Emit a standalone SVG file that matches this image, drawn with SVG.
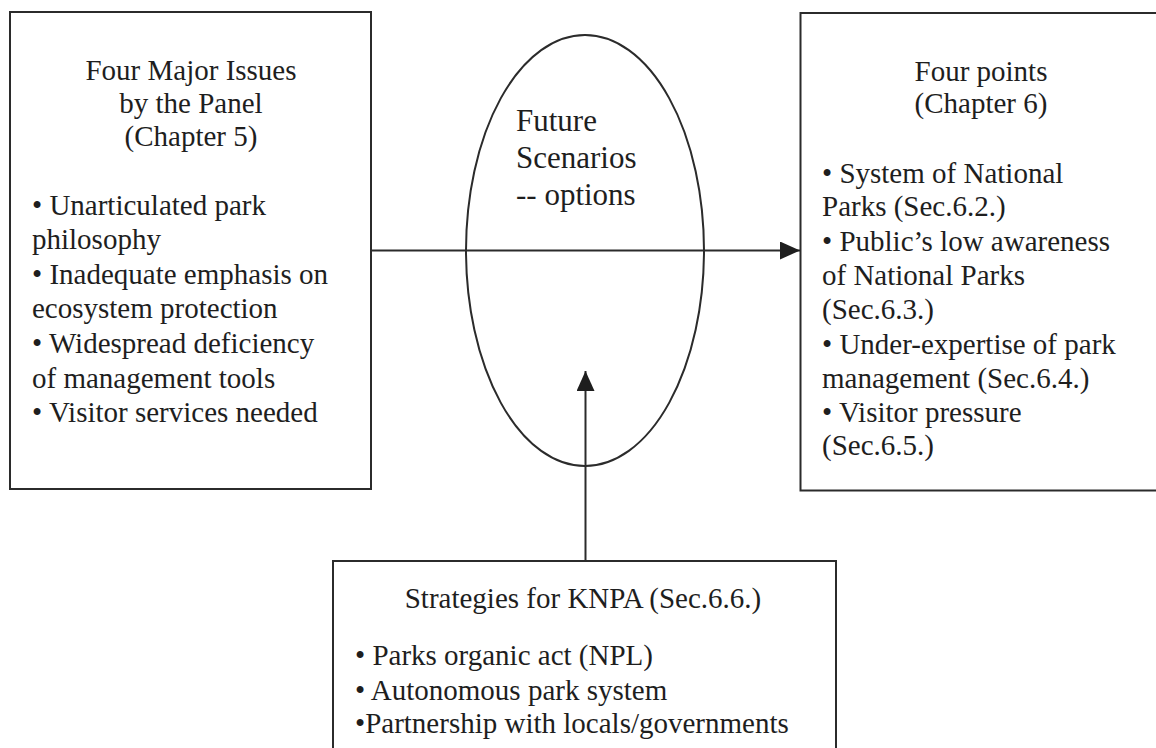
<svg xmlns="http://www.w3.org/2000/svg" width="1156" height="748" viewBox="0 0 1156 748">
  <style>
    .box { fill: #ffffff; stroke: #2b2b2b; stroke-width: 2; }
    .edge { fill: none; stroke: #2b2b2b; stroke-width: 2; }
    text { font-family: "Liberation Serif", "Times New Roman", serif; font-size: 29px; fill: #1e1e1e; }
    .mid { text-anchor: middle; }
    .big { font-size: 31px; }
  </style>
  <defs>
    <marker id="arrow" viewBox="0 0 20 18" refX="20" refY="9" markerWidth="20" markerHeight="18" markerUnits="userSpaceOnUse" orient="auto">
      <path d="M0,0 L20,9 L0,18 Z" fill="#1e1e1e"/>
    </marker>
  </defs>

  <rect width="1156" height="748" fill="#ffffff"/>

  <!-- Left box: issues raised by the panel -->
  <g id="issues">
    <rect class="box" x="10" y="12" width="361" height="477"/>
    <text class="mid" x="191" y="80">Four Major Issues</text>
    <text class="mid" x="191" y="113">by the Panel</text>
    <text class="mid" x="191" y="146">(Chapter 5)</text>
    <text x="32" y="215">• Unarticulated park</text>
    <text x="32" y="249">philosophy</text>
    <text x="32" y="284">• Inadequate emphasis on</text>
    <text x="32" y="318">ecosystem protection</text>
    <text x="32" y="353">• Widespread deficiency</text>
    <text x="32" y="388">of management tools</text>
    <text x="32" y="422">• Visitor services needed</text>
  </g>

  <!-- Central ellipse -->
  <g id="scenarios">
    <ellipse class="box" cx="585" cy="250.5" rx="119" ry="215.5"/>
    <text class="big" x="516" y="131">Future</text>
    <text class="big" x="516" y="168">Scenarios</text>
    <text class="big" x="516" y="205">-- options</text>
  </g>

  <!-- Right box: four points -->
  <g id="points">
    <rect class="box" x="800.5" y="13" width="362" height="477.5"/>
    <text class="mid" x="981" y="81">Four points</text>
    <text class="mid" x="981" y="113">(Chapter 6)</text>
    <text x="822" y="183">• System of National</text>
    <text x="822" y="216">Parks (Sec.6.2.)</text>
    <text x="822" y="251">• Public’s low awareness</text>
    <text x="822" y="285">of National Parks</text>
    <text x="822" y="319">(Sec.6.3.)</text>
    <text x="822" y="354">• Under-expertise of park</text>
    <text x="822" y="388">management (Sec.6.4.)</text>
    <text x="822" y="422">• Visitor pressure</text>
    <text x="822" y="455">(Sec.6.5.)</text>
  </g>

  <!-- Bottom box: strategies -->
  <g id="strategies">
    <rect class="box" x="333" y="561" width="503" height="200"/>
    <text class="mid" x="583" y="608">Strategies for KNPA (Sec.6.6.)</text>
    <text x="355" y="665">• Parks organic act (NPL)</text>
    <text x="355" y="700">• Autonomous park system</text>
    <text x="355" y="733">•Partnership with locals/governments</text>
  </g>

  <!-- Connectors -->
  <g id="connectors">
    <line class="edge" x1="371" y1="250.5" x2="800" y2="250.5" marker-end="url(#arrow)"/>
    <line class="edge" x1="585.5" y1="561" x2="585.5" y2="371" marker-end="url(#arrow)"/>
  </g>
</svg>
